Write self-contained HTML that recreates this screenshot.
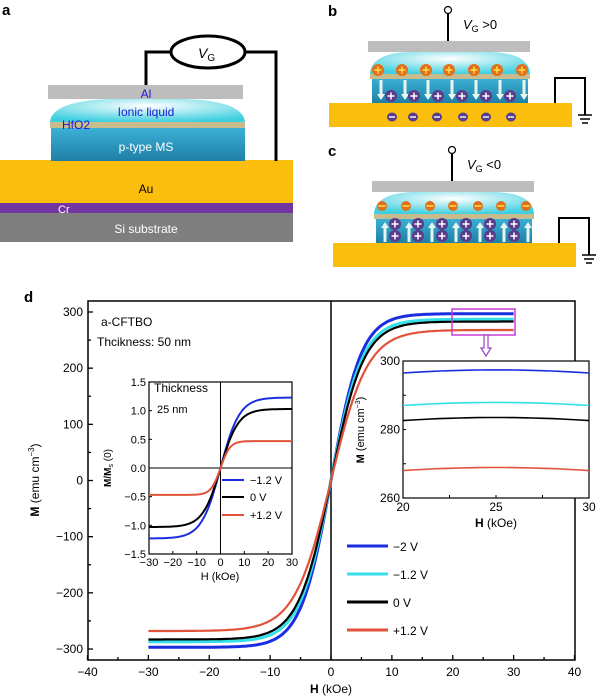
<!DOCTYPE html>
<html><head><meta charset="utf-8"><style>
html,body{margin:0;padding:0;background:#fff}
svg{display:block;font-family:"Liberation Sans",sans-serif}
</style></head><body>
<svg id="s" width="600" height="698" viewBox="0 0 600 698" xmlns="http://www.w3.org/2000/svg">
<defs>
<linearGradient id="ms" x1="0" y1="0" x2="0" y2="1"><stop offset="0" stop-color="#3bb0d6"/><stop offset="1" stop-color="#1f7fa6"/></linearGradient>
<radialGradient id="il" cx="0.5" cy="0.3" r="0.7"><stop offset="0" stop-color="#ffffff"/><stop offset="1" stop-color="#3fcfe0"/></radialGradient>
</defs>
<text x="2" y="15" font-size="15" font-weight="bold">a</text>
<rect x="0" y="160" width="293" height="44" fill="#fbbe0c"/>
<rect x="0" y="203" width="293" height="10" fill="#7335a0"/>
<rect x="0" y="213" width="293" height="29" fill="#7f7f7f"/>
<rect x="51" y="128" width="194" height="33" fill="url(#ms)"/>
<rect x="50" y="122" width="195" height="6" fill="#c8bb8c"/>
<path d="M50,122 Q52,101 110,99 L185,99 Q243,101 245,122 Z" fill="url(#il)"/>
<rect x="48" y="85" width="195" height="14" fill="#bdbdbd"/>
<path d="M146,85 V52 H171 M245,52 H276 V161" stroke="#000" stroke-width="3" fill="none"/>
<ellipse cx="208" cy="52" rx="37" ry="16" fill="#fff" stroke="#000" stroke-width="3"/>
<text x="198" y="58" font-size="14" font-style="italic">V<tspan font-size="10" font-style="normal" dy="3">G</tspan></text>
<text x="146" y="98" font-size="12" fill="#1a1ad0" text-anchor="middle">Al</text>
<text x="146" y="116" font-size="12" fill="#1a1ad0" text-anchor="middle">Ionic liquid</text>
<text x="62" y="129" font-size="12" fill="#1a1ad0">HfO2</text>
<text x="146" y="151" font-size="12" fill="#fff" text-anchor="middle">p-type MS</text>
<text x="146" y="193" font-size="12" fill="#000" text-anchor="middle">Au</text>
<text x="58" y="213" font-size="11" fill="#fff">Cr</text>
<text x="146" y="233" font-size="12" fill="#fff" text-anchor="middle">Si substrate</text>
<text x="24" y="302" font-size="15" font-weight="bold">d</text>
</svg>
<script>
const S=document.getElementById('s');const NS='http://www.w3.org/2000/svg';
function el(t,a,txt,p){const e=document.createElementNS(NS,t);for(const k in a)e.setAttribute(k,a[k]);if(txt!=null)e.textContent=txt;(p||S).appendChild(e);return e;}
function tx(x,y,s,o){return el('text',Object.assign({x:x,y:y,'font-size':12},o||{}),s);}
function panel(oy,pos,lab){
 const ox= pos?0:4;
 tx(328,oy+16,lab,{'font-size':15,'font-weight':'bold'});
 el('line',{x1:448+ox,y1:oy+10,x2:448+ox,y2:oy+41,stroke:'#000','stroke-width':2});
 el('circle',{cx:448+ox,cy:oy+10,r:3.5,fill:'#fff',stroke:'#000','stroke-width':1.2});
 const t=tx(463+ox,oy+29,'',{'font-size':13});
 t.innerHTML='<tspan font-style="italic">V</tspan><tspan font-size="9" dy="3">G</tspan><tspan dy="-3"> '+(pos?'&gt;0':'&lt;0')+'</tspan>';
 el('rect',{x:329+ox,y:oy+103,width:243,height:24,fill:'#fbbe0c'});
 el('rect',{x:372+ox,y:oy+78,width:156,height:25,fill:'url(#ms)'});
 el('rect',{x:370+ox,y:oy+74,width:160,height:5,fill:'#c8bb8c'});
 el('path',{d:`M${370+ox},${oy+74} Q${371+ox},${oy+53} ${410+ox},${oy+52} L${490+ox},${oy+52} Q${529+ox},${oy+53} ${530+ox},${oy+74} Z`,fill:'url(#il)'});
 el('rect',{x:368+ox,y:oy+41,width:162,height:11,fill:'#bdbdbd'});
 el('path',{d:`M${555+ox},${oy+103} V${oy+78} H${585+ox} V${oy+115}`,stroke:'#000','stroke-width':2,fill:'none'});
 [[578,592,115],[580,590,119],[582,588,123]].forEach(g=>el('line',{x1:g[0]+ox,x2:g[1]+ox,y1:oy+g[2],y2:oy+g[2],stroke:'#000','stroke-width':1.5}));
 const ox1=[378,402,426,449,474,497,522];
 ox1.forEach(x=>{el('circle',{cx:x+ox,cy:oy+(pos?70:66),r:pos?6:5,fill:'#e2701a'});
   el('line',{x1:x+ox-3.5,x2:x+ox+3.5,y1:oy+(pos?70:66),y2:oy+(pos?70:66),stroke:'#fde050','stroke-width':1.5});
   if(pos)el('line',{x1:x+ox,x2:x+ox,y1:oy+66.5,y2:oy+73.5,stroke:'#fde050','stroke-width':1.5});});
 const ax=[381,405,428,452,476,500,524];
 ax.forEach(x=>{const X=x+ox;
   if(pos){el('path',{d:`M${X-1.5},${oy+80} h3 v14 h2.5 l-4,6 l-4,-6 h2.5 z`,fill:'#e8f4ee'});}
   else{el('path',{d:`M${X-1.5},${oy+102} h3 v-14 h2.5 l-4,-6 l-4,6 h2.5 z`,fill:'#e8f4ee'});}});
 const px=[391,414,438,462,486,510];
 function plus(x,y){el('circle',{cx:x,cy:y,r:6,fill:'#5a3c8c'});
   el('path',{d:`M${x-3.5},${y}h7M${x},${y-3.5}v7`,stroke:'#fff','stroke-width':1.5});}
 px.forEach(x=>{if(pos)plus(x+ox,oy+96);else{plus(x+ox,oy+84);plus(x+ox,oy+96);}});
 if(pos)[392,413,437,463,486,511].forEach(x=>{el('ellipse',{cx:x+ox,cy:oy+117,rx:5,ry:4.5,fill:'#5a3c8c'});el('line',{x1:x+ox-3,x2:x+ox+3,y1:oy+117,y2:oy+117,stroke:'#fff','stroke-width':1.4});});
}
panel(0,true,'b');panel(140,false,'c');
const X0=88,X1=575,Y0=301,Y1=660;
const mx=h=>331+h*6.0875, my=m=>480.5-m*0.5617;
el('rect',{x:X0,y:Y0,width:X1-X0,height:Y1-Y0,fill:'none',stroke:'#000','stroke-width':1.5});
el('line',{x1:331,x2:331,y1:Y0,y2:Y1,stroke:'#000','stroke-width':1.5});
for(let h=-40;h<=40;h+=5){const x=mx(h);el('line',{x1:x,x2:x,y1:Y1,y2:Y1-(h%10?3:5),stroke:'#000','stroke-width':1.3});if(h%10==0)tx(x,676,h<0?'\u2212'+(-h):''+h,{'text-anchor':'middle','font-size':12});}
for(let m=-300;m<=300;m+=50){const y=my(m);el('line',{x1:X0,x2:X0+(m%100?3:5),y1:y,y2:y,stroke:'#000','stroke-width':1.3});if(m%100==0)tx(83,y+4,m<0?'\u2212'+(-m):''+m,{'text-anchor':'end','font-size':12});}
const yl=tx(0,0,'',{transform:'translate(39,480) rotate(-90)','text-anchor':'middle','font-size':12});
yl.innerHTML='<tspan font-weight="bold">M</tspan> (emu cm<tspan font-size="8" dy="-5">\u22123</tspan><tspan dy="5">)</tspan>';
const xl=tx(331,693,'',{'text-anchor':'middle','font-size':12});xl.innerHTML='<tspan font-weight="bold">H</tspan> (kOe)';
tx(101,326,'a-CFTBO');tx(97,346,'Thcikness: 50 nm');
function curve(fx,fy,Ms,h0,col,w,a,b){let d='';for(let h=a;h<=b+1e-9;h+=0.25){let m=Ms*Math.tanh(h/h0);d+=(d?'L':'M')+fx(h).toFixed(1)+','+fy(m).toFixed(1);}el('path',{d:d,stroke:col,'stroke-width':w,fill:'none','stroke-linejoin':'round'});}
curve(mx,my,297,5.0,'#1a2ee0',3,-30,30);
curve(mx,my,287,5.2,'#33e0e8',3,-30,30);
curve(mx,my,283,5.4,'#000',2.2,-30,30);
curve(mx,my,268,6.0,'#e0523a',2.2,-30,30);
el('rect',{x:452,y:309,width:63,height:26,fill:'none',stroke:'#c83cd8','stroke-width':1.5});
el('path',{d:'M484,335 v13 h-3 l5,8 l5,-8 h-3 v-13 z',fill:'#fff',stroke:'#a040c0','stroke-width':1.2});
[['#1a2ee0','\u22122 V',546],['#33e0e8','\u22121.2 V',574],['#000','0 V',602],['#e0523a','+1.2 V',630]].forEach(l=>{el('line',{x1:347,x2:388,y1:l[2],y2:l[2],stroke:l[0],'stroke-width':3});tx(393,l[2]+5,l[1],{'font-size':12});});
const ix=h=>220.5+h*143/60, iy=m=>468-m*172/3;
el('rect',{x:149,y:382,width:143,height:172,fill:'#fff',stroke:'#000','stroke-width':1.2});
el('line',{x1:220.5,x2:220.5,y1:382,y2:554,stroke:'#000','stroke-width':1});
el('line',{x1:149,x2:292,y1:468,y2:468,stroke:'#000','stroke-width':1});
[-1.5,-1,-0.5,0,0.5,1,1.5].forEach(v=>{const y=iy(v);el('line',{x1:149,x2:152,y1:y,y2:y,stroke:'#000'});tx(146,y+4,(v<0?'\u2212':'')+Math.abs(v).toFixed(1),{'text-anchor':'end','font-size':11});});
[-30,-20,-10,0,10,20,30].forEach(h=>{const x=ix(h);el('line',{x1:x,x2:x,y1:554,y2:551,stroke:'#000'});tx(x,566,(h<0?'\u2212':'')+Math.abs(h),{'text-anchor':'middle','font-size':11});});
tx(220,580,'H (kOe)',{'text-anchor':'middle','font-size':11});
const il=tx(0,0,'',{transform:'translate(111,468) rotate(-90)','text-anchor':'middle','font-size':10});
il.innerHTML='<tspan font-weight="bold">M/M</tspan><tspan font-size="7" dy="2">s</tspan><tspan dy="-2"> (0)</tspan>';
tx(154,392,'Thickness',{'font-size':12});tx(157,413,'25 nm',{'font-size':11});
curve(ix,iy,1.23,8,'#1a2ee0',2,-30,30);
curve(ix,iy,1.03,7.5,'#000',2,-30,30);
curve(ix,iy,0.47,4,'#e0523a',2,-30,30);
[['#1a2ee0','\u22121.2 V',480],['#000','0 V',497],['#e0523a','+1.2 V',515]].forEach(l=>{el('line',{x1:222,x2:244,y1:l[2],y2:l[2],stroke:l[0],'stroke-width':2});tx(250,l[2]+4,l[1],{'font-size':11});});
const rx=h=>403+(h-20)*18.6, ry=m=>361+(300-m)*137/40;
el('rect',{x:403,y:361,width:186,height:137,fill:'#fff',stroke:'#000','stroke-width':1.2});
[260,270,280,290,300].forEach(m=>{const y=ry(m);el('line',{x1:403,x2:406,y1:y,y2:y,stroke:'#000'});if(m%20==0)tx(400,y+4,''+m,{'text-anchor':'end','font-size':12});});
[20,22.5,25,27.5,30].forEach(h=>{const x=rx(h);el('line',{x1:x,x2:x,y1:498,y2:495,stroke:'#000'});if(h%5==0)tx(x,511,''+h,{'text-anchor':'middle','font-size':12});});
const rl=tx(496,527,'',{'text-anchor':'middle','font-size':12});rl.innerHTML='<tspan font-weight="bold">H</tspan> (kOe)';
const ry2=tx(0,0,'',{transform:'translate(364,430) rotate(-90)','text-anchor':'middle','font-size':11});
ry2.innerHTML='<tspan font-weight="bold">M</tspan> (emu cm<tspan font-size="7" dy="-4">\u22123</tspan><tspan dy="4">)</tspan>';
[['#1a2ee0',296.5],['#33e0e8',287],['#000',282.6],['#e0523a',268]].forEach(l=>{let d='';for(let h=20;h<=30.01;h+=0.5){const m=l[1]+0.9*(1-Math.pow((h-25)/5,2));d+=(d?'L':'M')+rx(h).toFixed(1)+','+ry(m).toFixed(1);}el('path',{d:d,stroke:l[0],'stroke-width':1.6,fill:'none'});});
</script>
</body></html>
